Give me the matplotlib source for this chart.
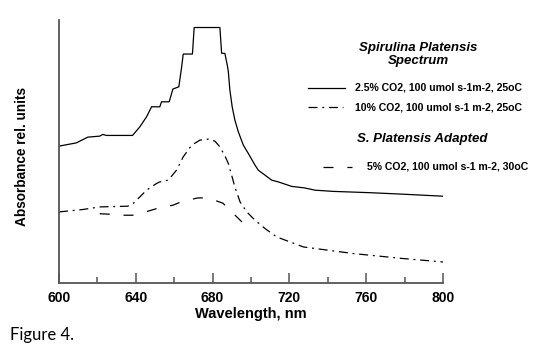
import matplotlib
matplotlib.use("Agg")
import matplotlib.pyplot as plt
from matplotlib.lines import Line2D
from matplotlib.ticker import MultipleLocator

plt.rcParams['lines.scale_dashes'] = False

# Solid: 2.5% CO2
wl_a = [600.0, 609.1, 615.0, 621.2, 622.8, 624.7, 638.3, 642.1, 645.6, 648.2, 652.5, 653.4,
        657.4, 659.3, 662.4, 663.8, 664.7, 669.5, 670.4, 683.8, 684.7, 686.4, 687.8, 688.2,
        689.0, 690.2, 691.6, 693.4, 696.0, 698.6, 702.1, 703.8, 707.3, 710.8, 714.2, 721.2,
        727.8, 733.4, 742.9, 762.1, 779.3, 800.0]
ab_a = [136.7, 140.0, 145.7, 146.7, 148.4, 147.4, 147.4, 156.0, 166.0, 176.0, 176.0, 181.0,
        181.0, 193.7, 196.0, 214.7, 228.7, 228.7, 255.2, 255.2, 229.4, 229.4, 216.0, 211.0,
        192.7, 176.0, 162.7, 151.0, 137.7, 129.4, 117.7, 112.7, 107.7, 102.7, 101.0, 96.5,
        95.0, 92.7, 91.5, 90.2, 88.7, 86.7]

# Dash-dot: 10% CO2
wl_b = [600.0, 612.4, 621.2, 635.8, 638.6, 642.1, 645.6, 650.8, 652.5, 656.9, 661.2, 664.7,
        669.1, 673.4, 677.7, 681.2, 683.8, 686.4, 688.2, 691.6, 694.3, 697.8, 702.1, 707.3,
        713.4, 727.3, 753.4, 779.4, 800.0]
ab_b = [71.0, 73.4, 76.0, 76.7, 79.4, 86.0, 92.7, 99.4, 101.0, 102.7, 112.7, 126.0,
        137.7, 142.7, 143.7, 141.7, 136.0, 127.0, 119.4, 96.0, 81.0, 71.0, 62.7, 54.4,
        46.0, 36.0, 29.4, 24.4, 21.0]

# Dashed: 5% CO2 adapted
wl_c = [621.2, 626.4, 632.7, 638.4, 646.3, 651.5, 659.3, 664.5, 672.4, 677.6, 685.4, 689.0,
        695.3, 701.0]
ab_c = [69.2, 68.7, 67.7, 67.7, 71.7, 74.7, 77.7, 81.7, 85.0, 85.0, 79.7, 72.7, 61.0, 56.7]

labels = ["2.5% CO2, 100 umol s-1m-2, 25oC",
          "10% CO2, 100 umol s-1 m-2, 25oC",
          "5% CO2, 100 umol s-1 m-2, 30oC"]
titles = ["Spirulina Platensis\nSpectrum", "S. Platensis Adapted"]
xticks = [600, 640, 680, 720, 760, 800]

W, H = 534, 350
fig = plt.figure(figsize=(W / 100, H / 100), dpi=100)
ax = fig.add_axes([59 / W, 1 - 283 / H, (443 - 59) / W, (283 - 20) / H])

dd = (0, (6.5, 3.4, 1.4, 3.4))
dsh = (0, (7.2, 10.0))
lw = 0.9
ax.plot(wl_a, ab_a, color='black', lw=lw, solid_joinstyle='miter')
ax.plot(wl_b, ab_b, color='black', lw=lw, linestyle=dd)
ax.plot(wl_c, ab_c, color='black', lw=lw, linestyle=dsh)

ax.set_xlim(600, 800)
ax.set_ylim(0, 262.7)
for s in ['top', 'right']:
    ax.spines[s].set_visible(False)
for s in ['left', 'bottom']:
    ax.spines[s].set_color('#555555')
    ax.spines[s].set_linewidth(1.3)
ax.set_yticks([])
ax.set_xticks(xticks)
ax.xaxis.set_minor_locator(MultipleLocator(20))
ax.tick_params(axis='x', which='major', direction='in', length=7.5, width=1.1, color='#555555', pad=6)
ax.tick_params(axis='x', which='minor', direction='in', length=4, width=1.1, color='#555555')
for t in ax.get_xticklabels():
    t.set_fontfamily('Liberation Sans')
    t.set_fontweight('bold')
    t.set_fontsize(10)
ax.set_xlabel("Wavelength, nm", fontfamily='Liberation Sans', fontweight='bold', fontsize=10.5, labelpad=1)
fig.text(22 / W, 1 - 156 / H, "Absorbance rel. units", rotation=90, ha='center', va='center',
         fontfamily='Liberation Sans', fontweight='bold', fontsize=9.8)

fig.text(10 / W, 1 - 335 / H, "Figure 4.", ha='left', va='center', fontfamily='Lato', fontsize=12)

# legend block
tkw = dict(fontfamily='Liberation Sans', fontweight='bold', fontsize=7.6, ha='left', va='center')
hkw = dict(fontfamily='Liberation Sans', fontweight='bold', style='italic', fontsize=9.5,
           ha='center', va='center')
fig.text(418 / W, 1 - 54.5 / H, titles[0], linespacing=1.15, **hkw)
fig.text(422 / W, 1 - 139 / H, titles[1], **hkw)

def handle(x0, x1, y, ls):
    fig.add_artist(Line2D([x0 / W, x1 / W], [1 - y / H, 1 - y / H], transform=fig.transFigure,
                          color='black', lw=lw, linestyle=ls))

handle(308, 345, 88, '-')
fig.text(355 / W, 1 - 88 / H, labels[0], **tkw)
handle(308, 343, 106.5, dd)
fig.text(355 / W, 1 - 107 / H, labels[1], **tkw)
handle(323, 352, 166.5, dsh)
fig.text(367 / W, 1 - 167 / H, labels[2], **tkw)

fig.savefig("out.png", dpi=100)
